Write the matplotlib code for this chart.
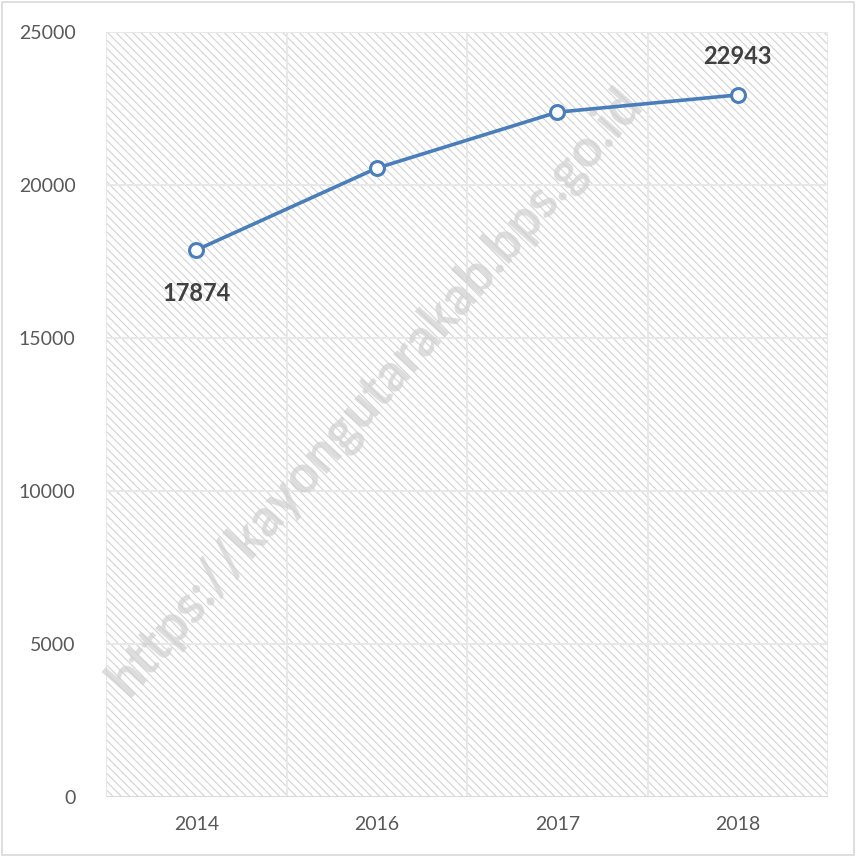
import matplotlib.pyplot as plt
from matplotlib.patches import Rectangle
import numpy as np

years = ["2014", "2016", "2017", "2018"]
values = [17874, 20550, 22380, 22943]
labelled = {0: "17874", 3: "22943"}
y_ticks = [0, 5000, 10000, 15000, 20000, 25000]

plt.rcParams['font.family'] = ['Lato', 'DejaVu Sans']
plt.rcParams['hatch.linewidth'] = 0.8
plt.rcParams['hatch.color'] = '#d3d3d3'

fig = plt.figure(figsize=(8.56, 8.57), dpi=100)
ax = fig.add_axes([106 / 856, 60 / 857, 722 / 856, 765 / 857])

x = np.arange(len(years))
ax.set_xlim(-0.5, len(years) - 0.5)
ax.set_ylim(0, 25000)

# hatched plot area
ax.add_patch(Rectangle((0, 0), 1, 1, transform=ax.transAxes, facecolor='white',
                       edgecolor='#d3d3d3', hatch='\\\\\\\\', linewidth=0, zorder=0))

# grid: category boundaries and value lines
for b in np.arange(-0.5, len(years), 1.0):
    ax.axvline(b, color='#e8e8e8', linewidth=1.4, zorder=1)
for t in y_ticks:
    ax.axhline(t, color='#e8e8e8', linewidth=1.4, zorder=1)
ax.axhline(0, color='#d9d9d9', linewidth=1.4, zorder=1)

# watermark, behind the series
ax.text(0.438, 0.543, "https://kayongutarakab.bps.go.id", rotation=49, fontsize=38,
        fontweight='bold', color='#cfcfcf', alpha=0.7, ha='center', va='center',
        transform=fig.transFigure, zorder=2, clip_on=False)

ax.plot(x, values, color='#4a7ebb', linewidth=2.6, marker='o', markersize=10,
        markerfacecolor='white', markeredgecolor='#4a7ebb', markeredgewidth=2.2, zorder=3)

for i, txt in labelled.items():
    off = -31 if i == 0 else 28
    ax.annotate(txt, (x[i], values[i]), xytext=(0, off), textcoords='offset points',
                ha='center', va='center', fontsize=17, fontweight='bold', color='#404040', zorder=4)

ax.set_xticks(x)
ax.set_xticklabels(years)
ax.set_yticks(y_ticks)
ax.tick_params(length=0, labelsize=14, colors='#595959', pad=14)
ax.tick_params(axis='y', pad=22)
for s in ax.spines.values():
    s.set_visible(False)

fig.add_artist(Rectangle((0.002, 0.002), 0.996, 0.996, transform=fig.transFigure,
                         fill=False, edgecolor='#d9d9d9', linewidth=1.2))

fig.savefig("out.png", dpi=100)
